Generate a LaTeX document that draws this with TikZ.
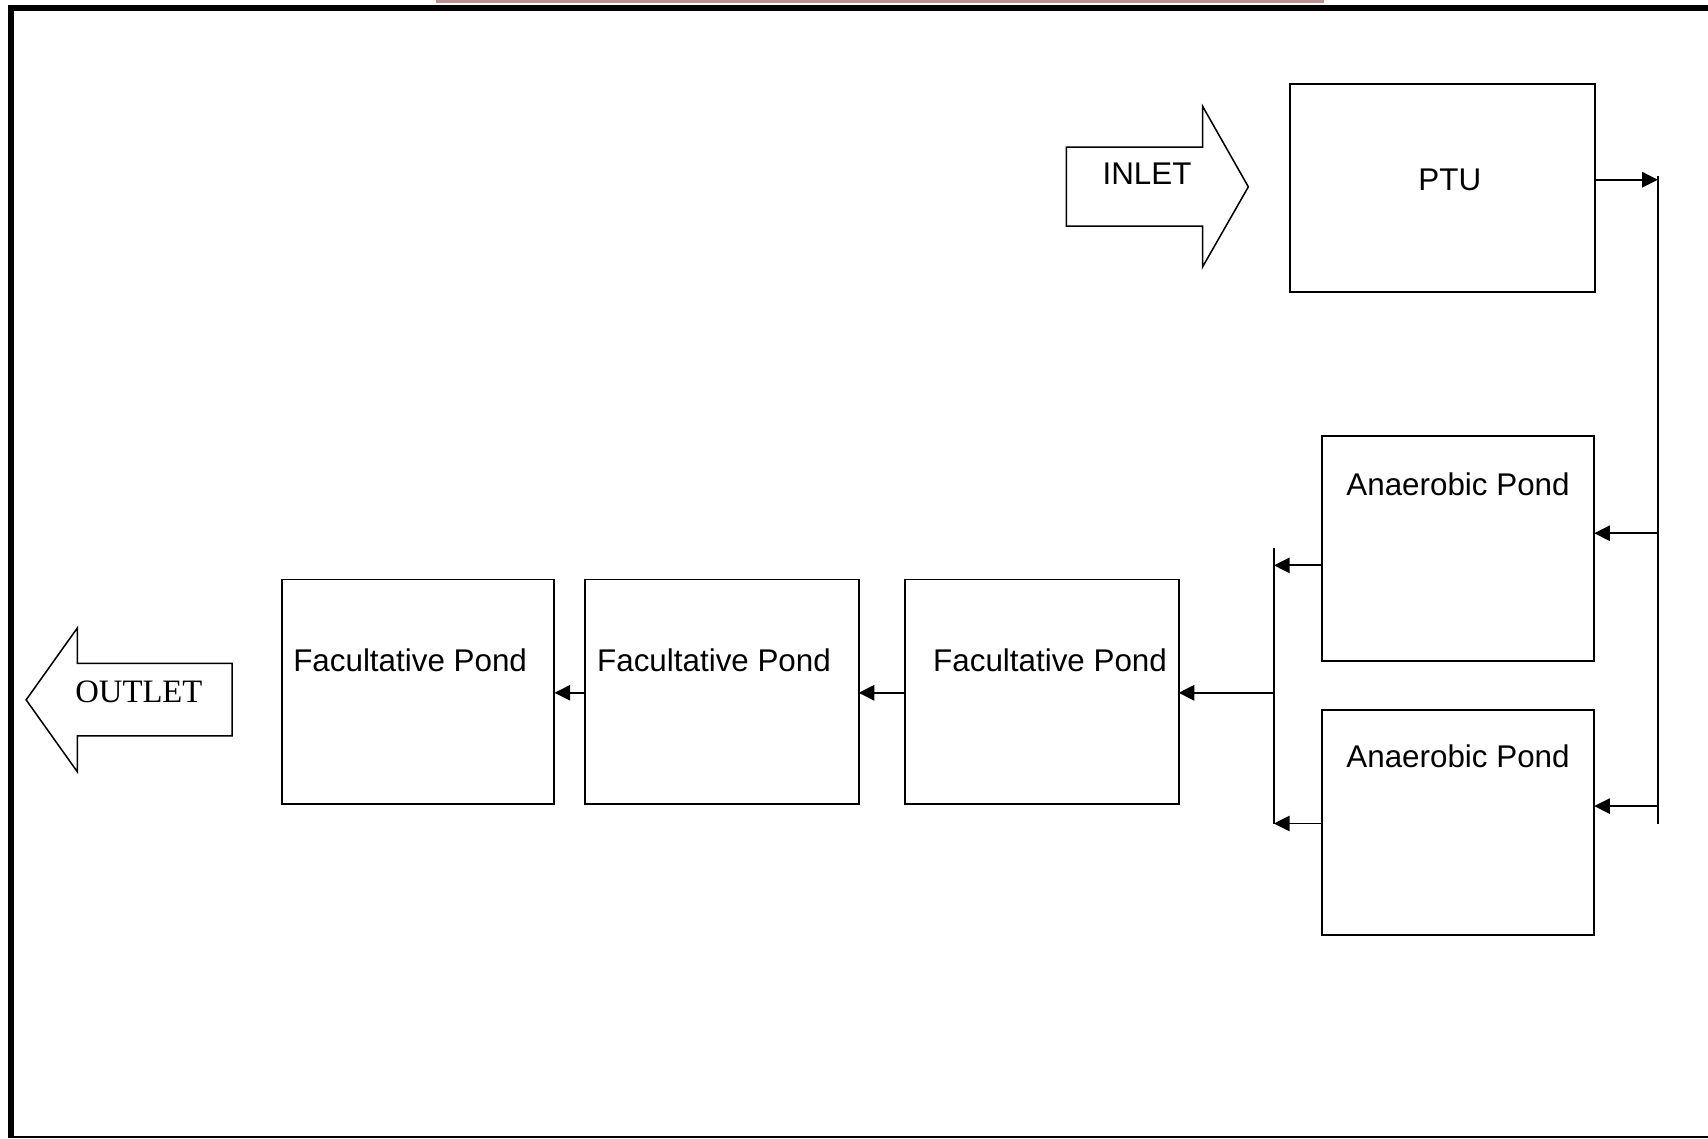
\documentclass[tikz,border=0pt]{standalone}
\usepackage{fontspec}
\setmainfont{Liberation Serif}
\newfontfamily\tah{Liberation Sans}
\usetikzlibrary{arrows.meta}
\definecolor{pinkbar}{RGB}{187,145,145}
\begin{document}
\begin{tikzpicture}[x=0.5pt,y=-0.5pt,
  box/.style={draw,line width=0.9pt,inner sep=0pt,outer sep=0pt},
  lbl/.style={font=\tah\fontsize{14.4}{17}\selectfont,anchor=base,inner sep=0pt},
  serlbl/.style={font=\fontsize{15}{18}\selectfont,anchor=base,inner sep=0pt},
  wire/.style={line width=0.9pt},
  arr/.style={line width=0.9pt,-{Triangle[length=7.2pt,width=7pt]}},
  blockarrow/.style={draw,line width=0.7pt,line join=miter}]
\useasboundingbox (0,0) rectangle (1568,1045);
% page frame
\fill[pinkbar] (400,0) rectangle (1215,2.8);
\draw[line width=2.6pt] (7,7.2) -- (1568,7.2);
\draw[line width=3pt] (10,4.6) -- (10,1045);
\draw[line width=0.75pt] (7,1043.7) -- (1568,1043.7);
% block arrows
\draw[blockarrow] (979,135) -- (1104,135) -- (1104,97.5) -- (1146,171.5) -- (1104,245) -- (1104,207.5) -- (979,207.5) -- cycle;
\node[lbl] (inlet) at (1053,169) {INLET};
\draw[blockarrow] (213,609) -- (71,609) -- (71,576.5) -- (24,642.5) -- (71,708.5) -- (71,675.5) -- (213,675.5) -- cycle;
\node[serlbl] (outlet) at (127.5,645) {OUTLET};
% boxes
\node[box,minimum width=140pt,minimum height=95.5pt] (ptu) at (1324,172.5) {};
\node[lbl] (ptut) at (1331,175) {PTU};
\node[box,minimum width=125pt,minimum height=103.5pt] (ap1) at (1338.5,503.5) {};
\node[lbl] (ap1t) at (1338.5,454.5) {Anaerobic Pond};
\node[box,minimum width=125pt,minimum height=103.5pt] (ap2) at (1338.5,755) {};
\node[lbl] (ap2t) at (1338.5,705) {Anaerobic Pond};
\node[box,minimum width=125.5pt,minimum height=103pt] (fac3) at (956.5,635) {};
\node[lbl] (fac3t) at (964,616.5) {Facultative Pond};
\node[box,minimum width=125.5pt,minimum height=103pt] (fac2) at (662.75,635) {};
\node[lbl] (fac2t) at (655.5,616.5) {Facultative Pond};
\node[box,minimum width=125.25pt,minimum height=103pt] (fac1) at (383.75,635) {};
\node[lbl] (fac1t) at (376.5,616.5) {Facultative Pond};
% connector coordinates
\coordinate (rTop) at (1522,162);
\coordinate (rA) at (1522,165);
\coordinate (rB) at (1522,489.5);
\coordinate (rC) at (1522,740);
\coordinate (rBot) at (1522,756.5);
\coordinate (lTop) at (1169.5,503.5);
\coordinate (lB) at (1169.5,519);
\coordinate (lC) at (1169.5,636);
\coordinate (lBot) at (1169.5,756);
% connectors
\draw[wire] (rTop) -- (rBot);
\draw[arr] (ptu.east |- rA) -- (rA);
\draw[arr] (rB) -- (ap1.east |- rB);
\draw[arr] (rC) -- (ap2.east |- rC);
\draw[wire] (lTop) -- (lBot);
\draw[arr] (ap1.west |- lB) -- (lB);
\draw[arr] (ap2.west |- lBot) -- (lBot);
\draw[arr] (lC) -- (fac3.east |- lC);
\draw[arr] (fac3.west |- lC) -- (fac2.east |- lC);
\draw[arr] (fac2.west |- lC) -- (fac1.east |- lC);
\end{tikzpicture}
\end{document}
